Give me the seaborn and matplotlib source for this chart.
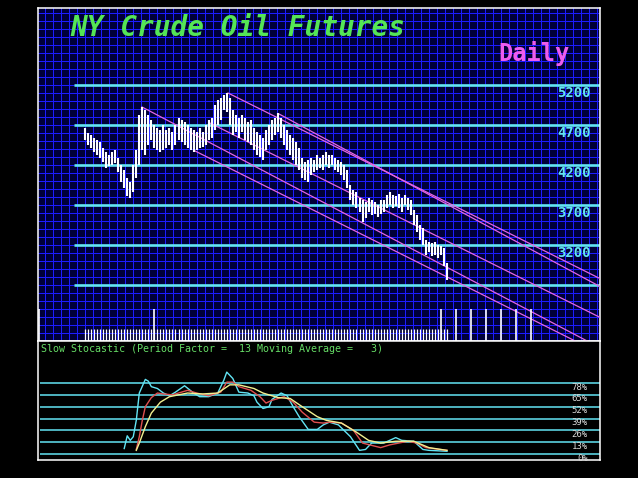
import matplotlib
matplotlib.use("Agg")
from matplotlib import pyplot as plt
from matplotlib.ticker import MultipleLocator
import numpy as np
import pandas as pd
import seaborn as sns

# ---- price bars (daily high / low) ----
highs = [4660, 4600, 4575, 4540, 4510, 4490, 4410, 4360, 4325, 4360,
         4390, 4290, 4200, 4140, 4040, 3990, 4200, 4390, 4825, 4925,
         4890, 4825, 4760, 4700, 4660, 4640, 4700, 4640, 4660, 4610,
         4700, 4790, 4760, 4740, 4700, 4660, 4640, 4610, 4660, 4610,
         4700, 4760, 4790, 4950, 5010, 5040, 5075, 5100, 5040, 4890,
         4825, 4790, 4825, 4790, 4740, 4760, 4660, 4610, 4575, 4540,
         4640, 4700, 4760, 4790, 4850, 4790, 4700, 4640, 4575, 4540,
         4490, 4410, 4290, 4240, 4260, 4290, 4260, 4325, 4290, 4325,
         4360, 4325, 4325, 4290, 4260, 4240, 4200, 4140, 3950, 3890,
         3860, 3790, 3760, 3740, 3790, 3760, 3740, 3700, 3760, 3760,
         3825, 3860, 3825, 3810, 3840, 3790, 3825, 3790, 3760, 3640,
         3575, 3450, 3410, 3260, 3240, 3225, 3240, 3200, 3190, 3160,
         2975]
lows = [4510, 4450, 4410, 4360, 4325, 4290, 4240, 4160, 4190, 4200,
        4225, 4110, 3990, 3910, 3810, 3790, 3860, 4040, 4200, 4390,
        4325, 4450, 4510, 4410, 4390, 4360, 4390, 4410, 4450, 4390,
        4450, 4510, 4490, 4450, 4410, 4390, 4360, 4390, 4410, 4425,
        4450, 4510, 4540, 4640, 4700, 4760, 4890, 4860, 4700, 4575,
        4610, 4540, 4610, 4510, 4490, 4450, 4390, 4325, 4300, 4260,
        4390, 4450, 4510, 4575, 4610, 4540, 4450, 4390, 4325, 4260,
        4200, 4140, 4040, 4010, 3990, 4075, 4110, 4140, 4160, 4140,
        4200, 4160, 4200, 4140, 4110, 4075, 4010, 3910, 3760, 3700,
        3660, 3610, 3490, 3540, 3610, 3575, 3590, 3550, 3590, 3610,
        3660, 3700, 3660, 3690, 3660, 3610, 3700, 3640, 3575, 3450,
        3360, 3260, 3200, 3075, 3110, 3060, 3075, 3040, 3075, 2940,
        2760]
bars = np.arange(len(highs))

levels = [5200, 4700, 4200, 3700, 3200, 2700]
level_labels = ["5200", "4700", "4200", "3700", "3200", ""]

# channel lines: start bar, start price, end bar, end price
chan_b0 = [47.4, 64.3, 41.4, 18.9, 36.5]
chan_p0 = [5100, 4838, 4725, 4925, 4375]
chan_b1 = [171, 171, 171, 171, 171]
chan_p1 = [2775, 2675, 2290, 1910, 1840]

# cycle markers at the bottom of the price panel
marker_bars = [-15.3, 23, 118, 123, 128, 133, 138, 143, 148]

# ---- slow stochastic ----
k_bars = [13, 14, 15, 16, 17, 18, 20, 21, 22, 24, 26, 28, 30, 33, 36, 38, 41, 44,
          46, 47, 49, 51, 54, 56, 57, 59, 61, 62, 65, 67, 69, 71, 74, 77, 79, 81,
          84, 88, 91, 93, 95, 99, 103, 105, 109, 112, 114, 120]
k_vals = [6, 20, 15, 19, 37, 67, 82, 80, 74, 72, 67, 64, 68, 75, 67, 63, 63, 67,
          81, 90, 83, 68, 67, 64, 57, 50, 52, 60, 67, 64, 52, 41, 27, 27, 32, 35,
          32, 19, 4, 5, 12, 12, 18, 15, 14, 5, 4, 3]
d_bars = [17, 18, 19, 20, 22, 24, 26, 29, 34, 37, 41, 45, 47, 49, 51, 55, 58, 60,
          62, 66, 69, 72, 76, 79, 81, 85, 89, 92, 98, 101, 107, 110, 113, 120]
d_vals = [5, 19, 37, 52, 62, 67, 66, 65, 70, 67, 64, 68, 79, 79, 74, 70, 63, 56,
          59, 63, 57, 46, 35, 34, 35, 34, 26, 12, 7, 10, 14, 12, 7, 4]
s_bars = [17, 18, 20, 22, 25, 28, 34, 39, 44, 48, 51, 56, 59, 64, 68, 72, 77, 80,
          85, 90, 94, 98, 103, 109, 114, 120]
s_vals = [4, 12, 30, 45, 57, 63, 67, 66, 67, 76, 76, 72, 67, 62, 61, 52, 41, 37,
          34, 24, 15, 12, 14, 14, 7, 4]
stoch_levels = [0, 13, 26, 39, 52, 65, 78]

CYAN = "#62e4f4"
MAGENTA = "#e466e4"
MONO = "DejaVu Sans Mono"

fig = plt.figure(figsize=(6.38, 4.78), dpi=100, facecolor="black")
ax = fig.add_axes([38/638, 1-341/478, 562/638, 333/478])
ax2 = fig.add_axes([38/638, 1-460/478, 562/638, 119/478])

# price panel
ax.set_facecolor("#000038")
ax.set_xlim(-15.58, 170.72)
ax.set_ylim(2000, 6162.5)
ax.xaxis.set_major_locator(MultipleLocator(8/3.0167))
ax.yaxis.set_major_locator(MultipleLocator(100))
ax.grid(True, color="#1c1cff", lw=0.72, antialiased=False)
ax.set_axisbelow(True)
ax.tick_params(length=0, labelbottom=False, labelleft=False)

ax.hlines(levels, -3.65, 171, color=CYAN, lw=1.9, zorder=2)
for lvl, lbl in zip(levels, level_labels):
    ax.text(167.7, lvl - 15, lbl, ha="right", va="top", color=CYAN,
            fontsize=10, family=MONO, fontweight="bold")

for b0, p0, b1, p1 in zip(chan_b0, chan_p0, chan_b1, chan_p1):
    ax.plot([b0, b1], [p0, p1], color=MAGENTA, lw=0.9, zorder=3)

ax.vlines(bars, lows, highs, color="white", lw=1.5, zorder=4)
ax.vlines(bars, 2000, 2150, color="white", lw=0.9, zorder=4)
ax.vlines(marker_bars, 2000, 2400, color="white", lw=1.2, zorder=4)

# stochastic panel
ax2.set_facecolor("black")
ax2.set_xlim(-15.58, 170.72)
ax2.set_ylim(-6.6, 124.2)
ax2.tick_params(length=0, labelbottom=False, labelleft=False)
ax2.hlines(stoch_levels, -14.9, 171, color=CYAN, lw=1.1)
for v in stoch_levels:
    ax2.text(166.7, v - 4.5, f"{v}%", ha="right", va="center", color="#d8d8d8",
             fontsize=6.5, family=MONO)

sns.lineplot(x=k_bars, y=k_vals, color=CYAN, lw=1.0, ax=ax2)
sns.lineplot(x=d_bars, y=d_vals, color="#e05050", lw=1.0, ax=ax2)
sns.lineplot(x=s_bars, y=s_vals, color="#f2f090", lw=1.0, ax=ax2)

for a in (ax, ax2):
    for sp in a.spines.values():
        sp.set_color("white")
        sp.set_linewidth(1.1)

fig.text(70/638, 1-28/478, "NY Crude Oil Futures", color="#55e655", fontsize=20,
         family=MONO, style="italic", fontweight="bold", ha="left", va="center")
fig.text(498/638, 1-53/478, "Daily", color="#ee5cee", fontsize=17,
         family=MONO, fontweight="bold", ha="left", va="center")
fig.text(41/638, 1-349/478,
         "Slow Stocastic (Period Factor =  13 Moving Average =   3)",
         color="#66dd66", fontsize=7.2, family=MONO, ha="left", va="center")

fig.savefig("out.png", dpi=100, facecolor="black")
